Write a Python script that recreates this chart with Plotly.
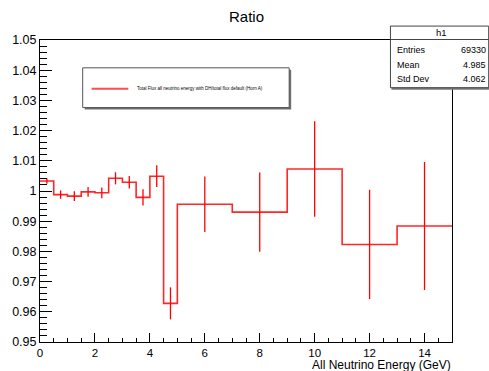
import plotly.graph_objects as go

# ---- data ----
bin_edges = [0, 0.5, 1.0, 1.5, 2.0, 2.5, 3.0, 3.5, 4.0, 4.5, 5.0, 7.0, 9.0, 11.0, 13.0, 15.0]
ratio_values = [1.0033, 0.9988, 0.9983, 0.9997, 0.9994, 1.0042, 1.0029, 0.9979, 1.0049, 0.9628,
                0.9956, 0.9930, 1.0073, 0.9823, 0.9884]
ratio_errors = [0.0009, 0.0014, 0.0016, 0.0016, 0.0018, 0.0020, 0.0021, 0.0027, 0.0036, 0.0053,
                0.0092, 0.0131, 0.0158, 0.0181, 0.0212]
series_name = "Total Flux all neutrino energy with DH/total flux default (Horn A)"
stats_labels = ["Entries", "Mean", "Std Dev"]
stats_values = ["69330", "4.985", "4.062"]

W, H = 489, 371
L, R, T, B = 37, 37, 40, 27
PW, PH = W - L - R, H - T - B
FONT = "Liberation Sans, Arial, Helvetica, sans-serif"


def px(p):
    return (p - L) / PW


def py(p):
    return (H - B - p) / PH


centers = [(bin_edges[i] + bin_edges[i + 1]) / 2 for i in range(len(ratio_values))]
step_x = bin_edges[:-1] + [bin_edges[-1]]
step_y = ratio_values + [ratio_values[-1]]

fig = go.Figure()
fig.add_trace(go.Scatter(x=step_x, y=step_y, mode="lines", line_shape="hv",
                         line=dict(color="rgba(255,0,0,0.85)", width=1.6),
                         name=series_name, showlegend=False, hoverinfo="skip"))
fig.add_trace(go.Scatter(x=centers, y=ratio_values, mode="markers",
                         marker=dict(size=0.1, color="red"),
                         error_y=dict(type="data", array=ratio_errors, visible=True,
                                      color="red", thickness=1.3, width=0),
                         showlegend=False, name=series_name))

shapes = []
annotations = []

# title
annotations.append(dict(text="Ratio", x=px(245), y=py(16), xref="paper", yref="paper",
                        showarrow=False, font=dict(family=FONT, size=15, color="black"),
                        xanchor="center", yanchor="middle"))
# x-axis title
annotations.append(dict(text="All Neutrino Energy (GeV)", x=px(452), y=py(367.5), xref="paper",
                        yref="paper", showarrow=False, borderpad=0,
                        font=dict(family=FONT, size=12, color="black"),
                        xanchor="right", yanchor="middle"))

# legend box
shapes.append(dict(type="rect", xref="paper", yref="paper", x0=px(82), x1=px(290),
                   y0=py(110), y1=py(70), fillcolor="#6e6e6e", line=dict(width=0)))
shapes.append(dict(type="rect", xref="paper", yref="paper", x0=px(80), x1=px(288),
                   y0=py(108), y1=py(68), fillcolor="white",
                   line=dict(color="#555555", width=1)))
shapes.append(dict(type="line", xref="paper", yref="paper", x0=px(89), x1=px(126),
                   y0=py(89), y1=py(89), line=dict(color="rgba(255,0,0,0.7)", width=2)))
annotations.append(dict(text=series_name, x=px(133), y=py(89), xref="paper", yref="paper",
                        showarrow=False, font=dict(family=FONT, size=4.5, color="black"),
                        xanchor="left", yanchor="middle"))

# stats box
shapes.append(dict(type="rect", xref="paper", yref="paper", x0=px(391), x1=px(491),
                   y0=py(90), y1=py(28), fillcolor="#777777", line=dict(width=0)))
shapes.append(dict(type="rect", xref="paper", yref="paper", x0=px(390), x1=px(489),
                   y0=py(88), y1=py(26), fillcolor="white",
                   line=dict(color="#444444", width=1)))
shapes.append(dict(type="line", xref="paper", yref="paper", x0=px(390), x1=px(489),
                   y0=py(39.5), y1=py(39.5), line=dict(color="#444444", width=1)))
annotations.append(dict(text="h1", x=px(441.5), y=py(32), xref="paper", yref="paper",
                        showarrow=False, font=dict(family=FONT, size=9.5, color="black"),
                        xanchor="center", yanchor="middle"))
for i, (lab, val) in enumerate(zip(stats_labels, stats_values)):
    yy = 50.5 + i * 14.3
    annotations.append(dict(text=lab, x=px(395), y=py(yy), xref="paper", yref="paper",
                            showarrow=False, font=dict(family=FONT, size=9, color="black"),
                            xanchor="left", yanchor="middle"))
    annotations.append(dict(text=val, x=px(488), y=py(yy), xref="paper", yref="paper",
                            showarrow=False, font=dict(family=FONT, size=9, color="black"),
                            xanchor="right", yanchor="middle"))

fig.update_layout(
    width=W, height=H,
    margin=dict(l=L, r=R, t=T, b=B, pad=0),
    paper_bgcolor="white", plot_bgcolor="white",
    showlegend=False,
    shapes=shapes, annotations=annotations,
    xaxis=dict(range=[0, 15], tickmode="linear", tick0=0, dtick=2, ticks="inside",
               ticklen=9, tickcolor="black", tickwidth=1,
               minor=dict(dtick=0.5, ticks="inside", ticklen=4.5, tickcolor="black"),
               showgrid=False, zeroline=False, showline=True, linecolor="black",
               linewidth=1, mirror=True, ticklabelstandoff=0,
               tickfont=dict(family=FONT, size=11.5, color="black")),
    yaxis=dict(range=[0.95, 1.05], tickmode="linear", tick0=0.95, dtick=0.01,
               ticks="inside", ticklen=12, tickcolor="black", tickwidth=1,
               minor=dict(dtick=0.002, ticks="inside", ticklen=6.5, tickcolor="black"),
               showgrid=False, zeroline=False, showline=True, linecolor="black",
               linewidth=1, mirror=True, tickformat="~g",
               tickfont=dict(family=FONT, size=12.5, color="black")),
)

fig.write_html("out.html")
